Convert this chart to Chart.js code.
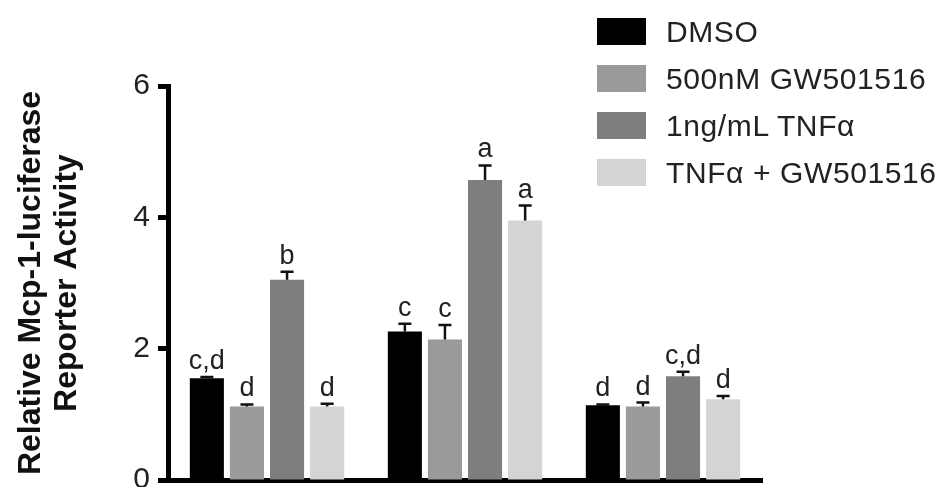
<!DOCTYPE html>
<html>
<head>
<meta charset="utf-8">
<script src="https://cdn.jsdelivr.net/npm/chart.js@4"></script>
<style>
  body { margin: 0; background: #fff; }
  #wrap { position: relative; width: 946px; height: 487px; }
  #legend { position: absolute; left: 597px; top: 18px; font-family: "Liberation Sans", Arial, sans-serif; font-size: 30px; letter-spacing: 0.6px; color: #222; }
  .row { display: flex; align-items: center; height: 27px; margin-bottom: 20px; }
  .box { width: 49px; height: 27px; margin-right: 20px; }
</style>
</head>
<body>
<div id="wrap">
  <canvas id="myChart"></canvas>
  <div id="legend"></div>
</div>
<script>
// donnees
const categories = ["Groupe 1", "Groupe 2", "Groupe 3"];
const seriesNames = ["DMSO", "500nM GW501516", "1ng/mL TNFα", "TNFα + GW501516"];
const dmso = [1.55, 2.26, 1.14];
const gw = [1.12, 2.14, 1.12];
const tnf = [3.05, 4.57, 1.58];
const combo = [1.12, 3.95, 1.23];
// erreur (vers le haut seulement)
const dmsoErr = [0.02, 0.12, 0.01];
const gwErr = [0.03, 0.22, 0.06];
const tnfErr = [0.12, 0.22, 0.07];
const comboErr = [0.04, 0.23, 0.05];
// lettres de significativite
const dmsoLetters = ["c,d", "c", "d"];
const gwLetters = ["d", "c", "d"];
const tnfLetters = ["b", "a", "c,d"];
const comboLetters = ["d", "a", "d"];
const yTicks = [0, 2, 4, 6];

const FONT = '"Liberation Sans", Arial, sans-serif';

// petite texture pointillee pour les barres grises
function makeTile(base, dot) {
  const c = document.createElement("canvas");
  c.width = 4;
  c.height = 4;
  const g = c.getContext("2d");
  g.fillStyle = base;
  g.fillRect(0, 0, 4, 4);
  g.fillStyle = dot;
  g.fillRect(0, 0, 1, 1);
  g.fillRect(2, 2, 1, 1);
  return c;
}
const tiles = [null, makeTile("#9c9c9c", "#8c8c8c"), null, makeTile("#d6d6d6", "#c6c6c6")];
const solid = ["#000000", "#9a9a9a", "#7e7e7e", "#d4d4d4"];
const tmpCtx = document.createElement("canvas").getContext("2d");
const fills = solid.map((c, i) => (tiles[i] ? tmpCtx.createPattern(tiles[i], "repeat") : c));

const values = [dmso, gw, tnf, combo];
const errs = [dmsoErr, gwErr, tnfErr, comboErr];
const letters = [dmsoLetters, gwLetters, tnfLetters, comboLetters];

const data = {
  labels: categories,
  datasets: seriesNames.map((name, i) => ({
    label: name,
    data: values[i],
    errors: errs[i],
    letters: letters[i],
    backgroundColor: fills[i],
    borderWidth: 0,
    barPercentage: 0.85,
    categoryPercentage: 0.81,
  })),
};

// barres d'erreur + lettres
const errorBars = {
  id: "errorBars",
  afterDatasetsDraw(chart) {
    const ctx = chart.ctx;
    const y = chart.scales.y;
    ctx.save();
    chart.data.datasets.forEach((ds, i) => {
      const meta = chart.getDatasetMeta(i);
      meta.data.forEach((bar, j) => {
        const top = y.getPixelForValue(ds.data[j] + ds.errors[j]);
        ctx.strokeStyle = "#111";
        ctx.lineWidth = 2.5;
        ctx.beginPath();
        ctx.moveTo(bar.x, bar.y);
        ctx.lineTo(bar.x, top);
        ctx.moveTo(bar.x - 6.5, top);
        ctx.lineTo(bar.x + 6.5, top);
        ctx.stroke();
        ctx.fillStyle = "#222";
        ctx.font = "27px " + FONT;
        ctx.textAlign = "center";
        ctx.textBaseline = "alphabetic";
        ctx.fillText(ds.letters[j], bar.x, top - 8);
      });
    });
    ctx.restore();
  },
};

const config = {
  type: "bar",
  data: data,
  options: {
    responsive: true,
    maintainAspectRatio: false,
    animation: false,
    layout: { padding: { top: 86, right: 184, bottom: 7, left: 0 } },
    plugins: { legend: { display: false }, tooltip: { enabled: false } },
    scales: {
      x: {
        z: 1,
        ticks: { display: false },
        grid: { display: false },
        border: { display: true, color: "#000", width: 5 },
        afterFit: (scale) => { scale.height = 0; },
      },
      y: {
        min: 0,
        max: 6,
        afterBuildTicks: (scale) => { scale.ticks = yTicks.map((v) => ({ value: v })); },
        ticks: { font: { family: FONT, size: 30 }, color: "#222", padding: 8 },
        grid: { drawOnChartArea: false, tickLength: 10, tickWidth: 5, tickColor: "#000" },
        border: { display: true, color: "#000", width: 5 },
        title: {
          display: true,
          text: ["Relative Mcp-1-luciferase", "Reporter Activity"],
          font: { family: FONT, size: 32, weight: "bold", lineHeight: 1.1 },
          color: "#111",
          padding: { top: 14, bottom: 0 },
        },
        afterFit: (scale) => {
          scale.width = 168;
          scale.paddingTop = 0;
          scale.paddingBottom = 0;
        },
      },
    },
  },
  plugins: [errorBars],
};

let chart = new Chart(document.getElementById("myChart").getContext("2d"), config);

// legende html
const legend = document.getElementById("legend");
seriesNames.forEach((name, i) => {
  const row = document.createElement("div");
  row.className = "row";
  const box = document.createElement("div");
  box.className = "box";
  if (tiles[i]) box.style.backgroundImage = "url(" + tiles[i].toDataURL() + ")";
  else box.style.background = solid[i];
  const txt = document.createElement("span");
  txt.textContent = name;
  row.appendChild(box);
  row.appendChild(txt);
  legend.appendChild(row);
});
</script>
</body>
</html>
